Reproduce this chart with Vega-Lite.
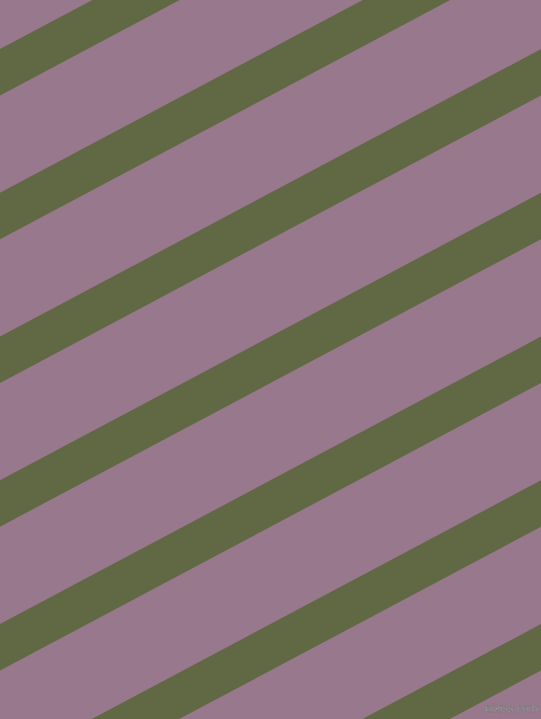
{
  "$schema": "https://vega.github.io/schema/vega-lite/v6.json",
  "width": 541,
  "height": 719,
  "padding": 0,
  "autosize": {"type": "fit", "contains": "padding"},
  "background": "#98788c",
  "config": {"view": {"stroke": null}},
  "datasets": {
    "stripes": [
      {"stripe": 1, "xa": -100, "ya": -18.4, "xb": 641, "yb": -412.1},
      {"stripe": 2, "xa": -100, "ya": 125.4, "xb": 641, "yb": -268.4},
      {"stripe": 3, "xa": -100, "ya": 269.1, "xb": 641, "yb": -124.6},
      {"stripe": 4, "xa": -100, "ya": 412.9, "xb": 641, "yb": 19.2},
      {"stripe": 5, "xa": -100, "ya": 556.6, "xb": 641, "yb": 162.9},
      {"stripe": 6, "xa": -100, "ya": 700.4, "xb": 641, "yb": 306.7},
      {"stripe": 7, "xa": -100, "ya": 844.1, "xb": 641, "yb": 450.4},
      {"stripe": 8, "xa": -100, "ya": 987.9, "xb": 641, "yb": 594.2}
    ],
    "mark": [
      {"label": "pixiss.com", "x": 538, "y": 714}
    ]
  },
  "layer": [
    {
      "data": {"name": "stripes"},
      "mark": {"type": "rule", "color": "#606844", "strokeWidth": 41, "strokeCap": "butt", "clip": true},
      "encoding": {
        "x": {"field": "xa", "type": "quantitative", "scale": {"domain": [0, 541], "nice": false, "zero": false}, "axis": null},
        "y": {"field": "ya", "type": "quantitative", "scale": {"domain": [0, 719], "nice": false, "zero": false, "reverse": true}, "axis": null},
        "x2": {"field": "xb"},
        "y2": {"field": "yb"}
      }
    },
    {
      "data": {"name": "mark"},
      "mark": {"type": "text", "align": "right", "baseline": "bottom", "font": "DejaVu Sans", "fontSize": 10, "color": "#b8b8b8", "stroke": "#6a6a6a", "strokeWidth": 0.4},
      "encoding": {
        "x": {"field": "x", "type": "quantitative", "scale": {"domain": [0, 541], "nice": false, "zero": false}, "axis": null},
        "y": {"field": "y", "type": "quantitative", "scale": {"domain": [0, 719], "nice": false, "zero": false, "reverse": true}, "axis": null},
        "text": {"field": "label"}
      }
    }
  ]
}
